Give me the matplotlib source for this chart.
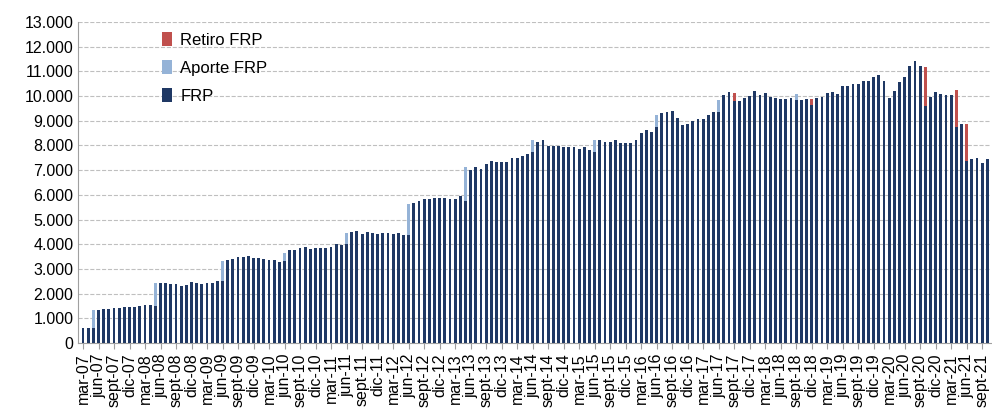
import numpy as np
import matplotlib.pyplot as plt
from matplotlib.ticker import FuncFormatter

# monthly FRP level (dark part of each bar), mar-07 .. oct-21
frp = [
    # 2007 mar-dec
    600, 600, 600, 1350, 1370, 1380, 1420, 1430, 1450, 1450,
    # 2008
    1480, 1520, 1560, 1530, 1520, 2430, 2430, 2400, 2380, 2320, 2370, 2480,
    # 2009
    2420, 2390, 2450, 2450, 2500, 2500, 3380, 3410, 3480, 3490, 3540, 3440,
    # 2010
    3440, 3420, 3380, 3380, 3300, 3320, 3750, 3760, 3860, 3900, 3800, 3830,
    # 2011
    3850, 3860, 3880, 4000, 3990, 4000, 4500, 4540, 4430, 4500, 4450, 4420,
    # 2012
    4450, 4460, 4420, 4460, 4370, 4370, 5680, 5760, 5850, 5850, 5860, 5880,
    # 2013
    5880, 5820, 5820, 5950, 5770, 7010, 7120, 7050, 7260, 7350, 7340, 7320,
    # 2014
    7340, 7490, 7490, 7580, 7660, 7730, 8140, 8230, 7970, 7970, 7990, 7920,
    # 2015
    7920, 7920, 7840, 7950, 7810, 7740, 8230, 8150, 8120, 8230, 8110, 8090,
    # 2016
    8080, 8200, 8510, 8610, 8540, 8730, 9320, 9340, 9380, 9120, 8840, 8850,
    # 2017
    9000, 9050, 9070, 9220, 9360, 9350, 10030, 10150, 9800, 9780, 9930, 10000,
    # 2018
    10200, 10030, 10110, 9970, 9900, 9860, 9890, 9900, 9850, 9850, 9860, 9640,
    # 2019
    9920, 9960, 10110, 10160, 10090, 10420, 10420, 10500, 10490, 10610, 10620, 10780,
    # 2020
    10860, 10610, 9900, 10200, 10580, 10770, 11220, 11420, 11230, 9590, 9970, 10140,
    # 2021 jan-oct
    10090, 10050, 10050, 8760, 8850, 7360, 7470, 7500, 7300, 7430,
]

# contributions (light blue on top) and withdrawals (red on top), by month
aporte = {'may-07': 750, 'may-08': 910, 'jun-09': 830, 'jun-10': 330, 'jun-11': 440,
          'jun-12': 1240, 'may-13': 1350, 'jun-14': 490, 'jun-15': 480, 'jun-16': 490,
          'jun-17': 500, 'sept-18': 240}
retiro = {'sept-17': 310, 'dic-18': 220, 'oct-20': 1590, 'abr-21': 1470, 'jun-21': 1490}

meses = ['ene', 'feb', 'mar', 'abr', 'may', 'jun', 'jul', 'ago', 'sept', 'oct', 'nov', 'dic']
labels = []
for y in range(2007, 2022):
    for m in range(12):
        if (y == 2007 and m < 2) or (y == 2021 and m > 9):
            continue
        labels.append(f'{meses[m]}-{str(y)[2:]}')

frp = np.array(frp, dtype=float)
ap = np.array([aporte.get(l, 0) for l in labels], dtype=float)
re = np.array([retiro.get(l, 0) for l in labels], dtype=float)
x = np.arange(len(labels))

plt.rcParams['font.family'] = ['Liberation Sans', 'DejaVu Sans']
fig, ax = plt.subplots(figsize=(9.92, 4.11), dpi=100)
fig.subplots_adjust(left=0.079, right=0.999, top=0.947, bottom=0.165)

w = 0.55
ax.bar(x, frp, width=w, color='#1f3864', label='FRP', zorder=3)
ax.bar(x, ap, width=w, bottom=frp, color='#95b3d7', label='Aporte FRP', zorder=3)
ax.bar(x, re, width=w, bottom=frp, color='#c0504d', label='Retiro FRP', zorder=3)

ax.set_ylim(0, 13000)
ax.set_yticks(np.arange(0, 13001, 1000))
ax.yaxis.set_major_formatter(FuncFormatter(lambda v, p: f'{int(v):,}'.replace(',', '.')))
ax.grid(axis='y', linestyle='--', color='#bfbfbf', linewidth=0.8, zorder=0)
ax.set_xlim(-0.9, len(labels) - 0.3)
ax.set_xticks(x[::3])
ax.set_xticklabels(labels[::3], rotation=90, fontsize=11.5)
ax.tick_params(axis='y', labelsize=11.5, length=0)
ax.tick_params(axis='x', length=4, color='#a0a0a0')
for s in ['top', 'right']:
    ax.spines[s].set_visible(False)
ax.spines['left'].set_color('#a0a0a0')
ax.spines['bottom'].set_color('#a0a0a0')

h, l = ax.get_legend_handles_labels()
ax.legend(h[::-1], l[::-1], loc='upper left', bbox_to_anchor=(0.075, 1.015), frameon=False,
          fontsize=12, handlelength=0.6, handleheight=0.9, labelspacing=0.75, handletextpad=0.5)

plt.savefig('out.png', dpi=100)
plt.close()
